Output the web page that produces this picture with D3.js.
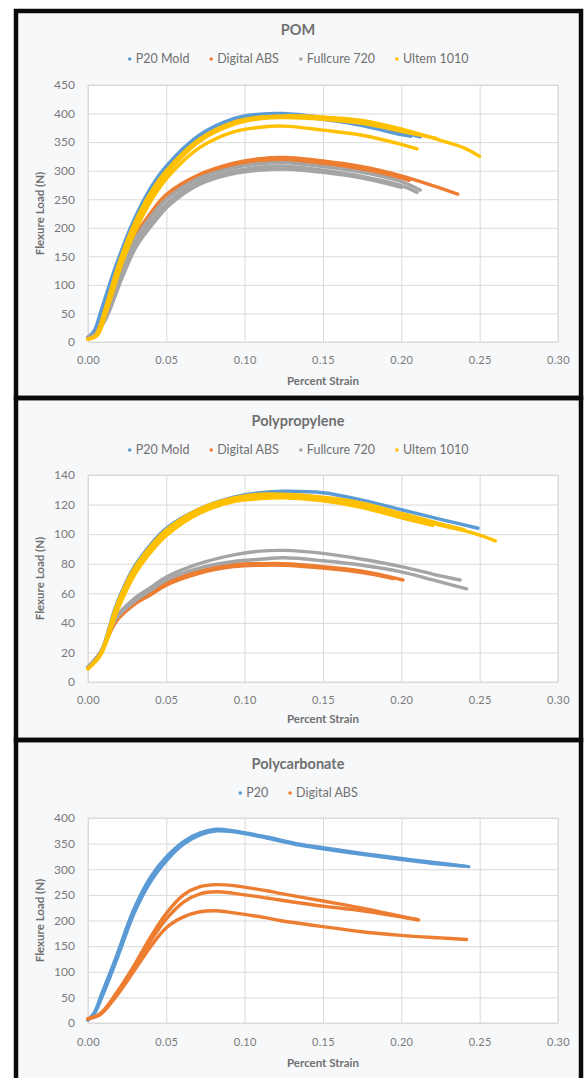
<!DOCTYPE html>
<html><head><meta charset="utf-8">
<script src="https://cdn.jsdelivr.net/npm/d3@7"></script>
<style>
html,body{margin:0;padding:0;background:#fff;}
svg{display:block;font-family:Lato,"Open Sans",sans-serif;}
</style></head>
<body><svg id="c" width="588" height="1078"></svg>
<script>
// ---------------- DATA ----------------
const xTicks = [0, 0.05, 0.10, 0.15, 0.20, 0.25, 0.30];
const pomTicks = [0, 50, 100, 150, 200, 250, 300, 350, 400, 450];
const ppTicks = [0, 20, 40, 60, 80, 100, 120, 140];
const pcTicks = [0, 50, 100, 150, 200, 250, 300, 350, 400];

const titles = ["POM", "Polypropylene", "Polycarbonate"];
const legendPOM = ["P20 Mold", "Digital ABS", "Fullcure 720", "Ultem 1010"];
const legendPP = ["P20 Mold", "Digital ABS", "Fullcure 720", "Ultem 1010"];
const legendPC = ["P20", "Digital ABS"];
const xTitle = "Percent Strain";
const yTitle = "Flexure Load (N)";

// POM specimens [strain, load]
const pomP20 = [
  [[0,8],[0.004,20],[0.008,52],[0.018,135],[0.029,212],[0.040,270],[0.050,308],[0.071,362],[0.093,391],[0.110,399],[0.125,400],[0.150,393],[0.175,383],[0.200,367],[0.212,359]],
  [[0,8],[0.004,18],[0.009,52],[0.019,135],[0.030,210],[0.041,265],[0.051,302],[0.071,356],[0.093,386],[0.110,395],[0.125,396],[0.150,390],[0.175,379],[0.200,363],[0.206,360]]
];
const pomABS = [
  [[0,8],[0.005,15],[0.010,45],[0.020,120],[0.029,180],[0.040,226],[0.050,258],[0.071,293],[0.093,313],[0.110,321],[0.125,323],[0.150,317],[0.175,307],[0.200,291],[0.220,274],[0.236,259]],
  [[0,8],[0.005,14],[0.011,45],[0.021,120],[0.030,178],[0.041,222],[0.051,253],[0.071,288],[0.093,308],[0.110,316],[0.125,318],[0.150,312],[0.175,302],[0.200,287],[0.205,283]]
];
const pomFull = [
  [[0,8],[0.005,15],[0.010,45],[0.020,118],[0.029,175],[0.040,219],[0.050,250],[0.071,287],[0.093,305],[0.110,312],[0.125,314],[0.150,307],[0.175,297],[0.200,281],[0.212,266]],
  [[0,8],[0.005,14],[0.011,44],[0.021,115],[0.030,170],[0.041,213],[0.051,244],[0.071,281],[0.093,299],[0.110,306],[0.125,308],[0.150,301],[0.175,290],[0.200,274],[0.210,262]],
  [[0,8],[0.005,14],[0.012,44],[0.022,114],[0.031,168],[0.042,209],[0.052,240],[0.071,276],[0.093,295],[0.110,301],[0.125,303],[0.150,297],[0.175,287],[0.200,271]]
];
const pomUltem = [
  [[0,5],[0.005,12],[0.010,50],[0.020,140],[0.030,210],[0.040,262],[0.050,300],[0.071,355],[0.093,385],[0.110,394],[0.125,396],[0.150,394],[0.175,388],[0.200,373],[0.225,353],[0.240,340],[0.250,325]],
  [[0,5],[0.006,12],[0.011,50],[0.021,140],[0.031,208],[0.041,259],[0.051,297],[0.071,351],[0.093,381],[0.110,391],[0.125,393],[0.150,390],[0.175,383],[0.200,369],[0.222,357]],
  [[0,5],[0.006,12],[0.012,55],[0.022,140],[0.032,205],[0.042,255],[0.052,292],[0.071,340],[0.093,368],[0.110,376],[0.125,378],[0.150,371],[0.175,362],[0.200,346],[0.210,338]]
];

// Polypropylene specimens
const ppP20 = [
  [[0,10],[0.008,20],[0.018,52],[0.029,77],[0.040,93],[0.050,104],[0.071,117],[0.093,125],[0.110,128],[0.125,129],[0.150,128],[0.175,123],[0.200,116.5],[0.225,110],[0.249,104]]
];
const ppABS = [
  [[0,10],[0.008,20],[0.018,42],[0.029,53],[0.040,60.5],[0.050,67],[0.071,75],[0.093,79.5],[0.110,80],[0.125,80],[0.150,78],[0.175,75],[0.201,69]],
  [[0,10],[0.008,20],[0.018,41],[0.029,52],[0.040,59],[0.050,65.5],[0.071,73.5],[0.093,78],[0.110,79],[0.125,79],[0.150,77],[0.175,74],[0.195,70]]
];
const ppFull = [
  [[0,10],[0.008,20],[0.018,44],[0.029,56],[0.040,64],[0.050,71],[0.071,80],[0.093,86],[0.110,88.5],[0.125,89],[0.150,87],[0.175,83],[0.200,78],[0.220,73],[0.2375,69]],
  [[0,10],[0.008,20],[0.018,43],[0.029,54],[0.040,62],[0.050,69],[0.071,77],[0.093,81.5],[0.110,83],[0.125,84],[0.150,82],[0.175,79],[0.200,74.5],[0.220,69],[0.2417,63]]
];
const ppUltem = [
  [[0,9],[0.008,19],[0.018,51],[0.029,76],[0.040,92],[0.050,103],[0.071,117],[0.093,124.5],[0.110,127],[0.125,127],[0.150,125],[0.175,121],[0.200,114],[0.225,107],[0.240,103]],
  [[0,9],[0.008,19],[0.018,50],[0.029,75],[0.040,91],[0.050,102],[0.071,116],[0.093,123.5],[0.110,126],[0.125,126],[0.150,124],[0.175,120],[0.200,113],[0.225,106],[0.245,101],[0.260,95.5]],
  [[0,9],[0.008,18],[0.019,49],[0.030,73],[0.041,89],[0.051,100],[0.071,114],[0.093,122],[0.110,124],[0.125,124.5],[0.150,122.5],[0.175,118],[0.200,111],[0.220,106]]
];

// Polycarbonate specimens
const pcP20 = [
  [[0,6],[0.004,20],[0.008,51],[0.018,129],[0.029,220],[0.040,285],[0.050,324],[0.061,354],[0.0715,371],[0.082,378],[0.093,375],[0.114,363],[0.135,349],[0.150,342],[0.175,331],[0.200,321],[0.225,312],[0.243,305]],
  [[0,6],[0.004,18],[0.009,51],[0.019,129],[0.030,218],[0.041,281],[0.051,320],[0.061,349],[0.0715,367],[0.082,375],[0.093,373],[0.114,361],[0.135,347],[0.150,340],[0.175,329],[0.200,319],[0.225,310],[0.240,306]]
];
const pcABS = [
  [[0,8],[0.008,19],[0.018,58],[0.029,110],[0.040,168],[0.050,214],[0.061,250],[0.0715,266],[0.082,270],[0.093,268],[0.114,258],[0.1225,253],[0.150,238],[0.175,224],[0.200,208],[0.211,201]],
  [[0,8],[0.008,18],[0.018,55],[0.029,105],[0.040,160],[0.050,203],[0.061,236],[0.0715,252],[0.082,256],[0.093,253],[0.114,244],[0.1225,240],[0.150,228],[0.175,219],[0.200,207],[0.210,202]],
  [[0,8],[0.008,17],[0.018,52],[0.029,100],[0.040,149],[0.050,186],[0.061,207],[0.0715,217],[0.082,219],[0.093,215],[0.114,205],[0.1225,200],[0.150,188],[0.175,178],[0.200,171],[0.225,166],[0.2417,163]]
];

// ---------------- DRAW ----------------
const colors = {blue:"#5B9BD5", orange:"#ED7D31", gray:"#A5A5A5", yellow:"#FFC000"};
const svg = d3.select("#c");

const panels = [
  {top:11, bottom:398, title:titles[0], tY:30, lY:59, legend:legendPOM, lColors:[colors.blue,colors.orange,colors.gray,colors.yellow],
   yMax:450, yTicks:pomTicks, pTop:85, pBot:342, xLabY:360, xTitY:381,
   series:[[pomP20,colors.blue],[pomABS,colors.orange],[pomFull,colors.gray],[pomUltem,colors.yellow]]},
  {top:398, bottom:740, title:titles[1], tY:421, lY:450, legend:legendPP, lColors:[colors.blue,colors.orange,colors.gray,colors.yellow],
   yMax:140, yTicks:ppTicks, pTop:475, pBot:682, xLabY:700, xTitY:719,
   series:[[ppP20,colors.blue],[ppABS,colors.orange],[ppFull,colors.gray],[ppUltem,colors.yellow]]},
  {top:740, bottom:1084, title:titles[2], tY:764, lY:793, legend:legendPC, lColors:[colors.blue,colors.orange],
   yMax:400, yTicks:pcTicks, pTop:818, pBot:1023, xLabY:1042, xTitY:1063,
   series:[[pcP20,colors.blue],[pcABS,colors.orange]]}
];

const left = 88, right = 558, cx = 298;
const x = d3.scaleLinear().domain([0, 0.30]).range([left, right]);

panels.forEach(p => {
  const g = svg.append("g");
  g.append("rect").attr("x",16).attr("y",p.top).attr("width",565).attr("height",p.bottom-p.top)
    .attr("fill","#f7f8fa");
  const y = d3.scaleLinear().domain([0, p.yMax]).range([p.pBot, p.pTop]);
  g.append("rect").attr("x",left).attr("y",p.pTop).attr("width",right-left).attr("height",p.pBot-p.pTop)
    .attr("fill","#ffffff").attr("stroke","#dcdcdc").attr("stroke-width",1);

  const ya = g.append("g").attr("transform",`translate(${left},0)`)
    .call(d3.axisLeft(y).tickValues(p.yTicks).tickSize(-(right-left)).tickPadding(13).tickFormat(d3.format("d")));
  ya.select(".domain").remove();
  ya.selectAll(".tick line").attr("stroke","#d9d9d9");
  ya.selectAll(".tick text").attr("fill","#7a7a7a").attr("font-size",12).attr("font-family","Lato,sans-serif");

  const xa = g.append("g").attr("transform",`translate(0,${p.pBot})`)
    .call(d3.axisBottom(x).tickValues(xTicks).tickSize(-(p.pBot-p.pTop)).tickPadding(0).tickFormat(d3.format(".2f")));
  xa.select(".domain").remove();
  xa.selectAll(".tick line").attr("stroke","#d9d9d9");
  xa.selectAll(".tick text").attr("fill","#7a7a7a").attr("font-size",11).attr("font-family","Lato,sans-serif")
    .attr("y", p.xLabY - p.pBot).attr("dy","0.35em").attr("letter-spacing","0.3px");

  const line = d3.line().x(d=>x(d[0])).y(d=>y(d[1])).curve(d3.curveCatmullRom.alpha(0.5));
  p.series.forEach(([specs,col]) => {
    specs.forEach(sp => {
      g.append("path").attr("d", line(sp)).attr("fill","none").attr("stroke",col)
        .attr("stroke-width",3.4).attr("stroke-linecap","round").attr("stroke-linejoin","round");
    });
  });

  g.append("text").attr("x",cx).attr("y",p.tY).attr("dy","0.35em").attr("text-anchor","middle")
    .attr("font-size",14.5).attr("font-weight","bold").attr("fill","#707070").text(p.title);

  const lg = g.append("g");
  const items = lg.selectAll("g").data(p.legend).join("g");
  items.append("circle").attr("r",1.8).attr("cy",0).attr("fill",(d,i)=>p.lColors[i]);
  items.append("text").attr("x",6).attr("dy","0.35em").attr("font-size",12.5).attr("fill","#707070").text(d=>d);
  let pos = 0; const gap = 20; const offs = [];
  items.each(function(){ const w = this.getBBox().width; offs.push(pos); pos += w + gap; });
  const total = pos - gap;
  items.attr("transform",(d,i)=>`translate(${cx - total/2 + offs[i] + 2},${p.lY})`);

  g.append("text").attr("transform",`translate(40,${(p.pTop+p.pBot)/2}) rotate(-90)`).attr("text-anchor","middle")
    .attr("dy","0.35em").attr("font-size",11.5).attr("font-weight","bold").attr("fill","#707070").text(yTitle);
  g.append("text").attr("x",(left+right)/2).attr("y",p.xTitY).attr("dy","0.35em").attr("text-anchor","middle")
    .attr("font-size",11.5).attr("font-weight","bold").attr("fill","#707070").text(xTitle);
});

panels.forEach(p => {
  svg.append("rect").attr("x",16).attr("y",p.top).attr("width",565).attr("height",p.bottom-p.top)
    .attr("fill","none").attr("stroke","#0a0a0a").attr("stroke-width",4.5);
});
</script></body></html>
